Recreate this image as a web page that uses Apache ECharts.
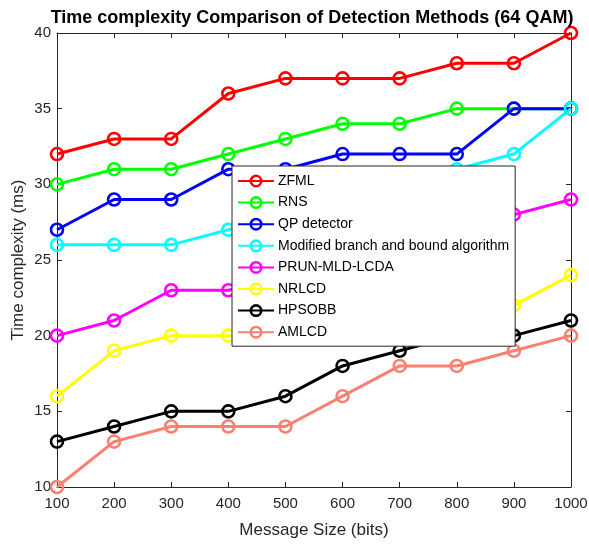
<!DOCTYPE html>
<html><head><meta charset="utf-8">
<script src="https://cdn.jsdelivr.net/npm/echarts@6/dist/echarts.min.js"></script>
<style>html,body{margin:0;padding:0;background:#fff}#c{width:589px;height:544px}</style>
</head><body><div id="c"></div>
<script>
const messageSizes = [100,200,300,400,500,600,700,800,900,1000];
const zfml   = [32,33,33,36,37,37,37,38,38,40];
const rns    = [30,31,31,32,33,34,34,35,35,35];
const qp     = [27,29,29,31,31,32,32,32,35,35];
const mbb    = [26,26,26,27,28,29,30,31,32,35];
const prun   = [20,21,23,23,24,25,26,27,28,29];
const nrlcd  = [16,19,20,20,20,21,21,22,22,24];
const hpsobb = [13,14,15,15,16,18,19,20,20,21];
const amlcd  = [10,13,14,14,14,16,18,18,19,20];
const seriesNames = ['ZFML','RNS','QP detector','Modified branch and bound algorithm','PRUN-MLD-LCDA','NRLCD','HPSOBB','AMLCD'];
const seriesData = [zfml,rns,qp,mbb,prun,nrlcd,hpsobb,amlcd];
const seriesColors = ['#ff0000','#00ff00','#0000ff','#00ffff','#ff00ff','#ffff00','#000000','#fa8072'];

const axisCol = '#262626';
const font = 'Liberation Sans, Arial, sans-serif';
const chart = echarts.init(document.getElementById('c'), null, {renderer:'canvas'});
const series = seriesNames.map((n,i)=>({
  name:n, type:'line', xAxisIndex:0, yAxisIndex:0,
  data: messageSizes.map((x,j)=>[x, seriesData[i][j]]),
  symbol:'circle', symbolSize:12, showAllSymbol:true,
  lineStyle:{color:seriesColors[i], width:3},
  itemStyle:{color:'rgba(0,0,0,0)', borderColor:seriesColors[i], borderWidth:2.6},
  emphasis:{disabled:true}, animation:false
}));
chart.setOption({
  animation:false,
  title:{text:'Time complexity Comparison of Detection Methods (64 QAM)', left:307, textAlign:'center', top:4,
    textStyle:{fontFamily:font, fontSize:18, fontWeight:'bold', color:'#000'}},
  grid:{left:57, right:18, top:33, bottom:57, outerBoundsMode:'none', containLabel:false},
  legend:{orient:'vertical', left:232, top:166, itemWidth:36, itemHeight:13, itemGap:7.6,
    padding:[8,6,7,5], backgroundColor:'#fff', borderColor:axisCol, borderWidth:1,
    textStyle:{fontFamily:font, fontSize:14, color:'#000', padding:[0,0,0,-1]},
    data:seriesNames.map((n,i)=>({name:n, itemStyle:{color:'rgba(0,0,0,0)', borderColor:seriesColors[i], borderWidth:2.6}}))},
  xAxis:[{type:'value', min:100, max:1000, interval:100, position:'bottom',
    name:'Message Size (bits)', nameLocation:'middle', nameGap:35,
    nameTextStyle:{fontFamily:font, fontSize:17, color:axisCol},
    axisLine:{lineStyle:{color:axisCol,width:1}}, axisTick:{inside:true,length:5,lineStyle:{color:axisCol}},
    axisLabel:{fontFamily:font, fontSize:15, color:axisCol, margin:9, formatter:v=>String(v)}, splitLine:{show:false}},
   {type:'value', min:100, max:1000, interval:100, position:'top',
    axisLine:{lineStyle:{color:axisCol,width:1}}, axisTick:{inside:true,length:5,lineStyle:{color:axisCol}},
    axisLabel:{show:false}, splitLine:{show:false}}],
  yAxis:[{type:'value', min:10, max:40, interval:5, position:'left',
    name:'Time complexity (ms)', nameLocation:'middle', nameGap:30, nameRotate:90, nameMoveOverlap:false,
    nameTextStyle:{fontFamily:font, fontSize:17, color:axisCol},
    axisLine:{show:true, lineStyle:{color:axisCol,width:1}}, axisTick:{show:true, inside:true,length:5,lineStyle:{color:axisCol}},
    axisLabel:{fontFamily:font, fontSize:15, color:axisCol, margin:6}, splitLine:{show:false}},
   {type:'value', min:10, max:40, interval:5, position:'right',
    axisLine:{show:true, lineStyle:{color:axisCol,width:1}}, axisTick:{show:true, inside:true,length:5,lineStyle:{color:axisCol}},
    axisLabel:{show:false}, splitLine:{show:false}}],
  series: series
});
</script></body></html>
